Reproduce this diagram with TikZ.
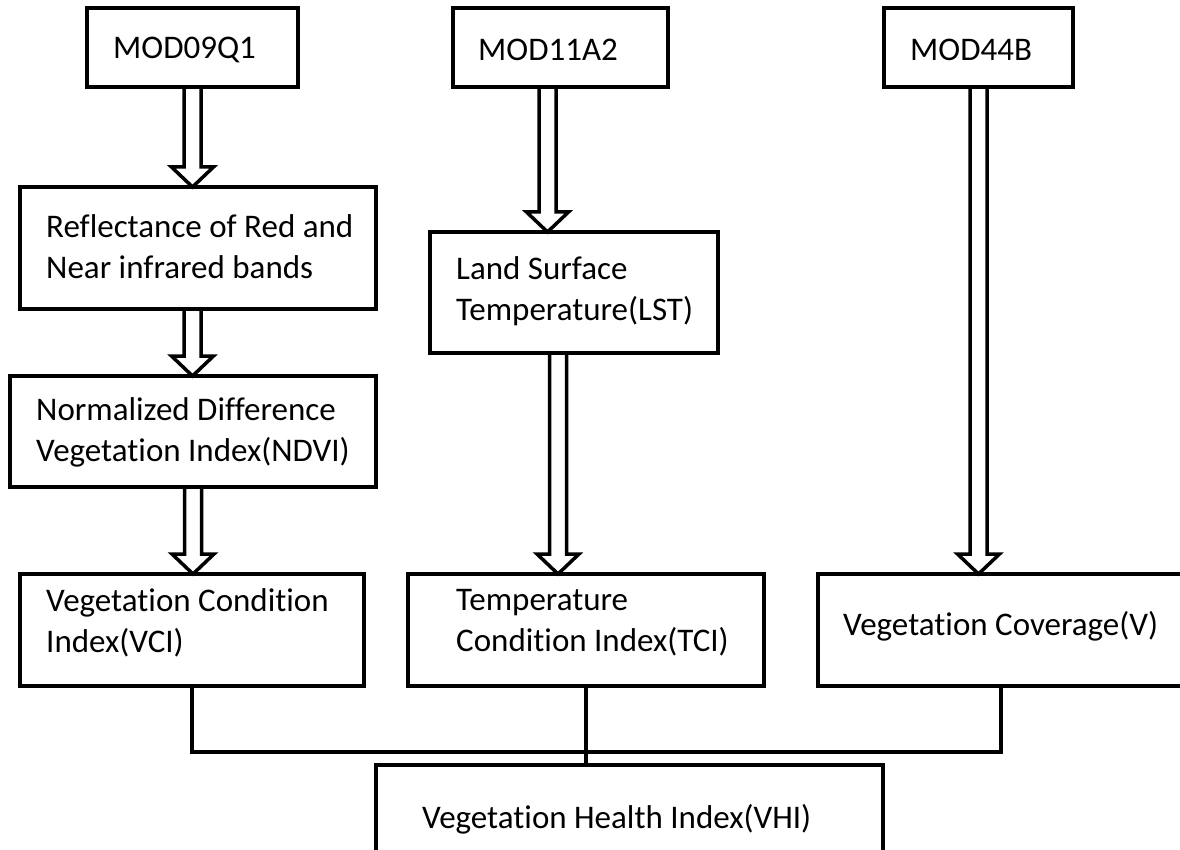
\documentclass[tikz,border=0pt]{standalone}
\usepackage{fontspec}
\setmainfont{Carlito}[Ligatures=NoCommon]
\usetikzlibrary{calc}

% hollow double-line arrow from the bottom of #1 to the top of #2, shifted by #3
\newcommand{\dblarrow}[3]{%
  \draw[hollow arrow] let \p1=([xshift=#3]#1.south), \p2=(#2.north) in
    (\x1-8.5pt,\y1) -- (\x1-8.5pt,\y2+20pt) -- (\x1-21pt,\y2+20pt) -- (\x1,\y2)
    -- (\x1+21pt,\y2+20pt) -- (\x1+8.5pt,\y2+20pt) -- (\x1+8.5pt,\y1);
}

\begin{document}
\begin{tikzpicture}[x=1pt,y=-1pt,
    box/.style={draw,line width=3.5pt,rectangle,anchor=north west,inner sep=0pt,outer sep=0pt},
    txt/.style={anchor=west,align=left,inner sep=0pt,font=\fontsize{33}{41}\selectfont},
    link/.style={line width=3.5pt},
    hollow arrow/.style={line width=3.5pt,line join=miter}]

\useasboundingbox (0,0) rectangle (1180,850);
\clip (0,0) rectangle (1180,850);

% products
\node[box,minimum width=211,minimum height=79] (mod09) at (87,8) {};
\node[txt] (mod09t) at ([xshift=26,yshift=-2]mod09.west) {MOD09Q1};
\node[box,minimum width=215,minimum height=79] (mod11) at (453,8) {};
\node[txt] (mod11t) at ([xshift=25,yshift=-2]mod11.west) {MOD11A2};
\node[box,minimum width=189,minimum height=79] (mod44) at (884,8) {};
\node[txt] (mod44t) at ([xshift=26,yshift=-2]mod44.west) {MOD44B};

% intermediate steps
\node[box,minimum width=356,minimum height=122] (refl) at (20,187) {};
\node[txt] (reflt) at ([xshift=26,yshift=1]refl.west) {Reflectance of Red and\\Near infrared bands};
\node[box,minimum width=288,minimum height=121] (lst) at (430,232) {};
\node[txt] (lstt) at ([xshift=26,yshift=1]lst.west) {Land Surface\\Temperature(LST)};
\node[box,minimum width=366,minimum height=111] (ndvi) at (10,376) {};
\node[txt] (ndvit) at ([xshift=26,yshift=-1]ndvi.west) {Normalized Difference\\Vegetation Index(NDVI)};

% indices
\node[box,minimum width=344,minimum height=112] (vci) at (20,574) {};
\node[txt] (vcit) at ([xshift=26,yshift=7]vci.west) {Vegetation Condition\\Index(VCI)};
\node[box,minimum width=356,minimum height=112] (tci) at (408,574) {};
\node[txt] (tcit) at ([xshift=48,yshift=7]tci.west) {Temperature\\Condition Index(TCI)};
\node[box,minimum width=366,minimum height=112] (v) at (818,574) {};
\node[txt] (vt) at ([xshift=25,yshift=4]v.west) {Vegetation Coverage(V)};

% result
\node[box,minimum width=507,minimum height=105] (vhi) at (376,765) {};
\node[txt] (vhit) at ([xshift=46,yshift=-2]vhi.west) {Vegetation Health Index(VHI)};

% arrows
\dblarrow{mod09}{refl}{0}
\dblarrow{refl}{ndvi}{-5.5}
\dblarrow{ndvi}{vci}{0}
\dblarrow{mod11}{lst}{-13}
\dblarrow{lst}{tci}{-16}
\dblarrow{mod44}{v}{0}

% joining lines
\draw[link] (vci.south) -- ++(0,66) -| (v.south);
\draw[link] (tci.south) -- (tci.south |- vhi.north);

\end{tikzpicture}
\end{document}
